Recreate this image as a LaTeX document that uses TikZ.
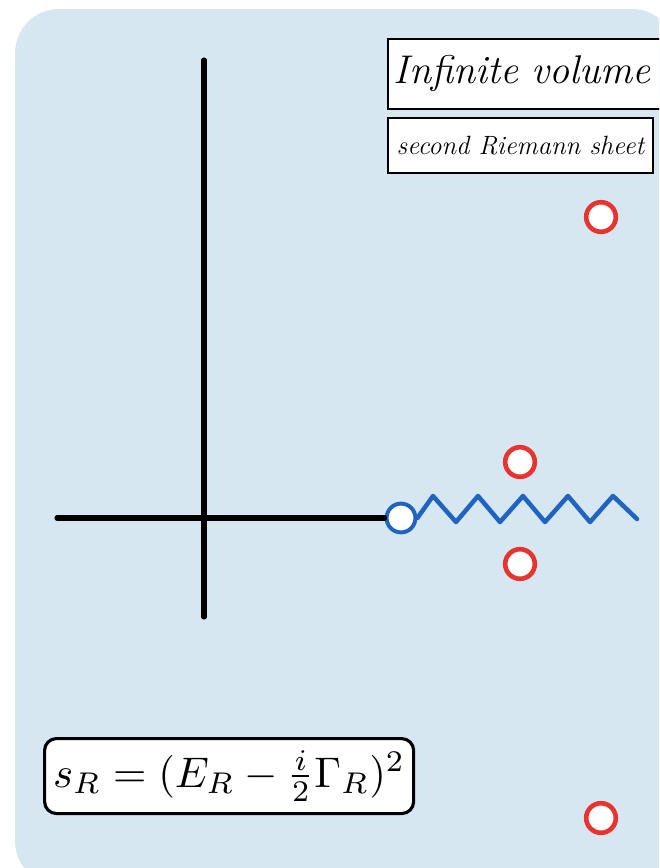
\documentclass[tikz,border=0pt]{standalone}
\usepackage{amsmath,amssymb}
\usetikzlibrary{positioning}
\definecolor{panel}{RGB}{214,231,241}
\definecolor{cutblue}{RGB}{31,100,192}
\definecolor{polered}{RGB}{232,52,46}
\tikzset{
  axis/.style={line width=3.6pt,line cap=round,black},
  cut/.style={line width=3.2pt,cutblue,line join=round,line cap=round},
  bpt/.style={circle,draw=cutblue,fill=white,line width=2.8pt,minimum size=0.72cm,inner sep=0pt},
  pole/.style={circle,draw=polered,fill=white,line width=3.3pt,minimum size=0.74cm,inner sep=0pt},
  titlebox/.style={draw,fill=white,line width=1.3pt,inner xsep=0.2cm,inner ysep=0pt,font=\itshape},
  eqbox/.style={draw,fill=white,line width=2.2pt,rounded corners=0.3cm,inner sep=0pt}
}
\begin{document}
\begin{tikzpicture}[x=0.025cm,y=-0.025cm]
  \useasboundingbox (0,0) rectangle (659,868);
  \clip (0,0) rectangle (659,868);
  \fill[panel,rounded corners=1.1cm] (15,9) rectangle (676,885);
  % axes of the s plane
  \coordinate (ytop) at (204,60);
  \coordinate (ybot) at (204,617);
  \coordinate (xleft) at (57,518);
  \node[bpt] (thr) at (401,518) {};
  \draw[axis] (ytop) -- (ybot);
  \draw[axis] (xleft) -- (thr.west);
  % branch cut
  \coordinate (cutend) at (637,519);
  \draw[cut] (thr.east) -- (433,496) -- (456,522) -- (478,496) -- (500,522) -- (523,496)
    -- (545,522) -- (568,496) -- (590,522) -- (613,496) -- (cutend);
  % resonance poles
  \node[pole] (p1) at (520,462) {};
  \node[pole] (p2) at (520,564) {};
  \node[pole] (p3) at (601,217) {};
  \node[pole] (p4) at (601,818) {};
  % labels
  \node[titlebox,anchor=north west,minimum height=1.75cm,text width=7.2cm,inner xsep=0.15cm,font=\itshape\fontsize{28.5}{32}\selectfont] (vol) at (387,38) {Infinite volume};
  \node[titlebox,anchor=north west,minimum height=1.375cm,minimum width=6.625cm,inner xsep=0pt,align=center,font=\itshape\fontsize{18.8}{22}\selectfont] (sheet) at (387,117) {second Riemann sheet};
  \node[eqbox,anchor=north west,minimum width=9.225cm,minimum height=1.875cm] (mass) at (43,737) {\resizebox{8.8cm}{!}{$s_R=(E_R-\tfrac{i}{2}\Gamma_R)^2$}};
\end{tikzpicture}
\end{document}
